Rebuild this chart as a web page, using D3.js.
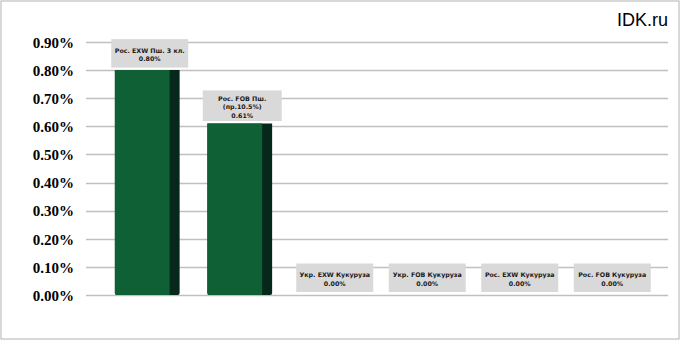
<!DOCTYPE html>
<html><head><meta charset="utf-8">
<script src="https://cdn.jsdelivr.net/npm/d3@7"></script>
<style>body{margin:0;background:#fff}svg{display:block}</style>
</head><body><svg id="c" width="681" height="341"></svg>
<script>
const categories = [["Рос. EXW Пш. 3 кл."],["Рос. FOB Пш.","(пр.10.5%)"],["Укр. EXW Кукуруза"],["Укр. FOB Кукуруза"],["Рос. EXW Кукуруза"],["Рос. FOB Кукуруза"]];
const values = [0.80, 0.61, 0, 0, 0, 0];
const ticks = [0,0.1,0.2,0.3,0.4,0.5,0.6,0.7,0.8,0.9];

const svg = d3.select("#c");
svg.append("rect").attr("x",1).attr("y",1).attr("width",678).attr("height",338)
  .attr("fill","#fff").attr("stroke","#bfbfbf").attr("stroke-width",1.2);

const y = d3.scaleLinear().domain([0,0.9]).range([295,42]);
const x = d3.scaleBand().domain(d3.range(categories.length)).range([101,656]).paddingInner(0.3).paddingOuter(0.15);

svg.append("g").selectAll("line").data(ticks).join("line")
  .attr("x1",86).attr("x2",668).attr("y1",d=>Math.round(y(d))+0.5).attr("y2",d=>Math.round(y(d))+0.5)
  .attr("stroke","#c0c0c0").attr("stroke-width",1.3);

const yAxis = d3.axisLeft(y).tickValues(ticks).tickFormat(d=>d.toFixed(2)+"%").tickSize(0).tickPadding(0);
const ga = svg.append("g").attr("transform","translate(74,0)").call(yAxis);
ga.select(".domain").remove();
ga.selectAll("text").attr("font-family","Liberation Serif").attr("font-weight","bold").attr("font-size",15).attr("fill","#000").attr("dy","0.35em");

const bw = x.bandwidth();
const side = 10;
const bars = svg.append("g").selectAll("g").data(values).join("g");
bars.filter(d=>d>0).append("path")
  .attr("d",(d,i)=>{const x0=x(i), x1=x(i)+bw, yt=y(d), yb=y(0); const r=2;
    return `M${x0},${yt}H${x1}V${yb-r}Q${x1},${yb} ${x1-r},${yb}H${x0+r}Q${x0},${yb} ${x0},${yb-r}Z`;})
  .attr("fill","#06281a");
bars.filter(d=>d>0).append("path")
  .attr("d",(d,i)=>{const x0=x(i), x1=x(i)+bw-side, yt=y(d), yb=y(0); const r=2;
    return `M${x0},${yt}H${x1}V${yb}H${x0+r}Q${x0},${yb} ${x0},${yb-r}Z`;})
  .attr("fill","#106036");

const lab = svg.append("g").selectAll("g").data(values).join("g");
lab.each(function(d,i){
  const g = d3.select(this);
  const lines = categories[i].concat([d.toFixed(2)+"%"]);
  const cx = x(i)+bw/2 + 2.5;
  const lh = 8.2;
  const h = Math.max(28.5, lines.length*lh+6);
  const w = i==1 ? 79 : 77;
  const yb = d>0 ? y(d)-2.5 : y(0)-3;
  const top = yb-h;
  g.append("rect").attr("x",cx-w/2).attr("y",top).attr("width",w).attr("height",h).attr("fill","#d9d9d9");
  const mid = top + h/2 + 1.5;
  lines.forEach((t,k)=>{
    g.append("text").attr("x",cx).attr("y",mid + (k-(lines.length-1)/2)*lh).attr("dy","0.35em")
      .attr("text-anchor","middle").attr("font-family","DejaVu Sans").attr("font-size",6.3).attr("font-weight","bold")
      .attr("fill","#1a1a1a").text(t);
  });
});

svg.append("text").attr("x",668).attr("y",26).attr("text-anchor","end")
  .attr("font-family","Liberation Sans").attr("font-size",18).attr("fill","#000").text("IDK.ru");
</script></body></html>
